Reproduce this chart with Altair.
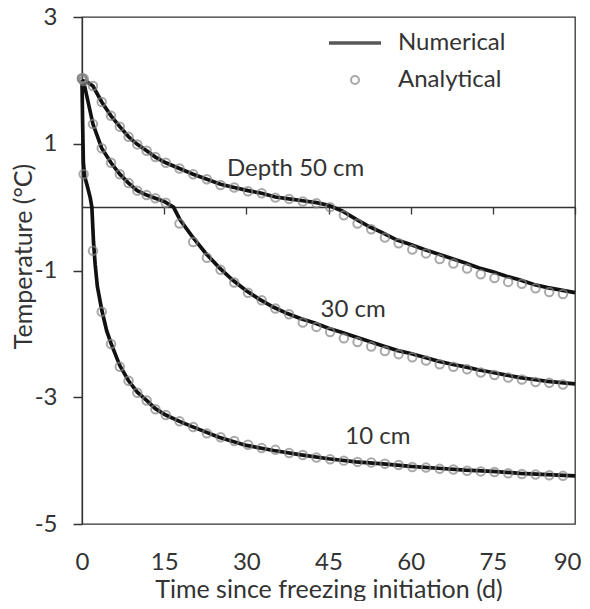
import altair as alt
import pandas as pd

# ---------------- data ----------------
depths = ["10 cm", "30 cm", "50 cm"]

# analytical solution (circles)
t_ana = [0, 0.3, 2.0, 3.6, 5.3, 6.9, 8.5, 10.1, 11.8, 13.4,
         15.3, 17.8, 20.3, 22.8, 25.3, 27.8, 30.3, 32.8, 35.3, 37.8,
         40.3, 42.8, 45.3, 47.8, 50.3, 52.8, 55.3, 57.8, 60.3, 62.8,
         65.3, 67.8, 70.3, 72.8, 75.3, 77.8, 80.3, 82.8, 85.3, 87.8]
ana_10 = [2.03, 0.52, -0.69, -1.65, -2.16, -2.52, -2.74, -2.93, -3.05, -3.19,
          -3.28, -3.38, -3.47, -3.57, -3.63, -3.69, -3.75, -3.80, -3.83, -3.88,
          -3.91, -3.95, -3.98, -4.00, -4.02, -4.03, -4.05, -4.07, -4.10, -4.11,
          -4.13, -4.14, -4.16, -4.17, -4.18, -4.20, -4.21, -4.22, -4.23, -4.24]
ana_30 = [2.03, 1.99, 1.31, 0.93, 0.70, 0.52, 0.38, 0.26, 0.19, 0.14,
          0.07, -0.26, -0.55, -0.80, -0.99, -1.19, -1.35, -1.47, -1.60, -1.69,
          -1.82, -1.89, -1.97, -2.07, -2.13, -2.20, -2.27, -2.32, -2.37, -2.42,
          -2.48, -2.52, -2.56, -2.61, -2.65, -2.69, -2.72, -2.76, -2.77, -2.80]
ana_50 = [2.03, 2.03, 1.91, 1.66, 1.44, 1.27, 1.11, 0.99, 0.89, 0.79,
          0.70, 0.61, 0.52, 0.44, 0.35, 0.31, 0.25, 0.22, 0.15, 0.13,
          0.09, 0.06, 0.00, -0.13, -0.26, -0.35, -0.48, -0.57, -0.67, -0.73,
          -0.82, -0.89, -0.97, -1.06, -1.12, -1.18, -1.21, -1.28, -1.34, -1.37]

# numerical solution (thick black lines)
t_num_10 = [0, 0.1, 0.25, 0.5, 1.0, 1.5, 1.8, 2.1, 2.4, 2.8,
            3.6, 4.5, 5.3, 6.9, 8.5, 10.1, 11.8, 13.4, 15.3, 17.8,
            20, 25, 30, 35, 40, 45, 50, 55, 60, 65, 70, 75, 80, 85, 90]
num_10 = [2.0, 1.4, 0.7, 0.48, 0.32, 0.15, 0.0, -0.55, -0.9, -1.25,
          -1.62, -1.95, -2.15, -2.50, -2.74, -2.92, -3.05, -3.18, -3.28, -3.38,
          -3.46, -3.63, -3.76, -3.84, -3.91, -3.97, -4.02, -4.05, -4.09, -4.12,
          -4.15, -4.17, -4.20, -4.22, -4.24]

t_num_30 = [0, 0.5, 2, 3.6, 5.3, 6.9, 8.5, 10.1, 11.8, 13.4,
            15, 16.7, 17.9, 20, 22.5, 25, 27.5, 30, 32.5, 35,
            37.5, 40, 42.5, 45, 47.5, 50, 52.5, 55, 57.5, 60,
            62.5, 65, 67.5, 70, 72.5, 75, 77.5, 80, 82.5, 85, 87.5, 90]
num_30 = [2.0, 1.9, 1.31, 0.93, 0.70, 0.52, 0.38, 0.26, 0.19, 0.14,
          0.09, 0.0, -0.20, -0.45, -0.72, -0.95, -1.15, -1.32, -1.46, -1.58,
          -1.68, -1.76, -1.83, -1.91, -1.98, -2.05, -2.12, -2.19, -2.26, -2.31,
          -2.37, -2.43, -2.48, -2.52, -2.57, -2.61, -2.65, -2.69, -2.72, -2.75,
          -2.77, -2.79]

t_num_50 = [0, 1, 2, 3.6, 5.3, 6.9, 8.5, 10.1, 11.8, 13.4,
            15.3, 17.8, 20.3, 22.8, 25.3, 27.8, 30.3, 32.8, 35.3, 37.8,
            40.3, 42.8, 45, 47.5, 50, 52.5, 55, 57.5, 60, 62.5,
            65, 67.5, 70, 72.5, 75, 77.5, 80, 82.5, 85, 87.5, 90]
num_50 = [2.0, 1.97, 1.91, 1.66, 1.44, 1.27, 1.11, 0.99, 0.89, 0.79,
          0.70, 0.61, 0.52, 0.44, 0.36, 0.31, 0.26, 0.22, 0.16, 0.13,
          0.10, 0.07, 0.03, -0.06, -0.19, -0.31, -0.41, -0.52, -0.59, -0.67,
          -0.74, -0.81, -0.88, -0.96, -1.02, -1.09, -1.15, -1.22, -1.27, -1.31,
          -1.35]

# curve labels
ann_text = ["Depth 50 cm", "30 cm", "10 cm"]
ann_t = [39.0, 49.5, 54.0]
ann_T = [0.60, -1.62, -3.62]

x_ticks = [0, 15, 30, 45, 60, 75, 90]
y_ticks = [3, 1, -1, -3, -5]
methods = ["Numerical", "Analytical"]

# ---------------- tables ----------------
num_rows = []
for d, ts, vs in zip(depths, [t_num_10, t_num_30, t_num_50], [num_10, num_30, num_50]):
    num_rows += [{"depth": d, "t": t, "T": v, "method": "Numerical"} for t, v in zip(ts, vs)]
num_df = pd.DataFrame(num_rows)

ana_rows = []
for d, vs in zip(depths, [ana_10, ana_30, ana_50]):
    ana_rows += [{"depth": d, "t": t, "T": v, "method": "Analytical"} for t, v in zip(t_ana, vs)]
ana_df = pd.DataFrame(ana_rows)

ann_df = pd.DataFrame({"label": ann_text, "t": ann_t, "T": ann_T})

# ---------------- styling ----------------
FONT = "Lato"
TXT = "#333333"
AX = "#333333"
FS = 24

x_scale = alt.Scale(domain=[0, 90], nice=False, zero=False)
y_scale = alt.Scale(domain=[-5, 3], nice=False, zero=False)

y_axis = alt.Axis(
    values=y_ticks, grid=False, domain=True, ticks=True, tickSize=9, tickColor=AX,
    tickWidth=1.5, labelPadding=16, labelExpr="'' + datum.value",
    labelFont=FONT, labelFontSize=FS, labelColor=TXT,
    title="Temperature (°C)", titleFont=FONT, titleFontSize=25, titleFontWeight="normal",
    titleColor=TXT, titleX=-59, titleY=239, titleBaseline="middle", titleAlign="center",
    titleAngle=270)

legend = alt.Legend(
    title=None, orient="none", legendX=261, legendY=14,
    labelFont=FONT, labelFontSize=FS, labelColor=TXT, labelOffset=31,
    symbolSize=64, rowPadding=13, padding=0,
)

lines = alt.Chart(num_df).mark_line(color="#111111", strokeWidth=3.7).encode(
    x=alt.X("t:Q", scale=x_scale, axis=alt.Axis(
        orient="bottom", values=x_ticks, domain=False, ticks=False, grid=False,
        labelFlush=False, labelOverlap=False,
        labelAlign={"condition": {"test": "datum.value == 90", "value": "right"}, "value": "center"},
        labelOffset={"condition": {"test": "datum.value == 90", "value": 6}, "value": 0},
        labelPadding=26, labelFont=FONT, labelFontSize=FS, labelColor=TXT,
        title="Time since freezing initiation (d)", titleFont=FONT, titleFontSize=25,
        titleFontWeight="normal", titleColor=TXT, titleY=73, titleBaseline="alphabetic")),
    y=alt.Y("T:Q", scale=y_scale, axis=y_axis),
    detail="depth:N",
)

pts = alt.Chart(ana_df).mark_point(filled=False, size=72).encode(
    x=alt.X("t:Q", scale=x_scale, axis=alt.Axis(
        orient="bottom", offset=-317, values=x_ticks[1:], labels=False, title=None,
        domain=True, ticks=True, tickSize=7, tickColor=AX, tickWidth=1.3, grid=False)),
    y=alt.Y("T:Q", scale=y_scale, axis=y_axis),
    detail="depth:N",
    shape=alt.Shape("method:N", scale=alt.Scale(domain=methods, range=["M-6.5,0L6.5,0", "circle"]), legend=legend),
    stroke=alt.Stroke("method:N", scale=alt.Scale(domain=methods, range=["#111111", "#858585"]), legend=legend),
    strokeWidth=alt.StrokeWidth("method:N", scale=alt.Scale(domain=methods, range=[3.7, 2.0]), legend=legend),
)

texts = alt.Chart(ann_df).mark_text(font=FONT, fontSize=FS, color=TXT, align="center", baseline="middle").encode(
    x=alt.X("t:Q", scale=x_scale, axis=None),
    y=alt.Y("T:Q", scale=y_scale, axis=y_axis),
    text="label:N",
)

chart = (
    alt.layer(lines, pts, texts)
    .resolve_axis(x="independent")
    .properties(
        width=493, height=507,
        padding={"left": 74, "top": 9, "right": 7, "bottom": 77},
        autosize=alt.AutoSizeParams(type="none"),
    )
    .configure_view(stroke=AX, strokeWidth=1.3)
    .configure_axis(domainColor=AX, domainWidth=1.3)
)

chart.save("out.html", embed_options={"renderer": "svg", "actions": False})
